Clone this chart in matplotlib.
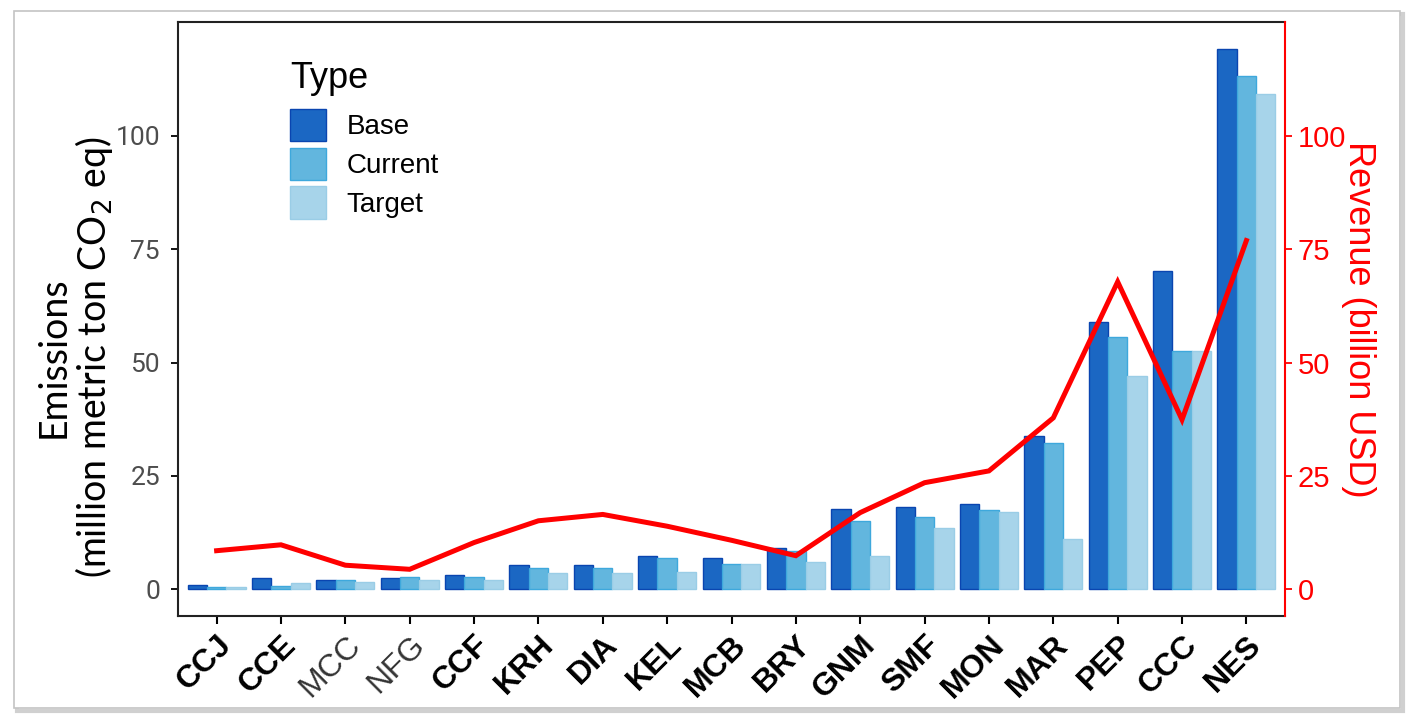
import matplotlib
matplotlib.use('Agg')
import matplotlib.pyplot as plt
from matplotlib.patches import Patch, Rectangle
import numpy as np

# data
companies = ['CCJ', 'CCE', 'MCC', 'NFG', 'CCF', 'KRH', 'DIA', 'KEL', 'MCB',
             'BRY', 'GNM', 'SMF', 'MON', 'MAR', 'PEP', 'CCC', 'NES']
base = [0.9, 2.4, 2.1, 2.4, 3.2, 5.4, 5.4, 7.3, 7.0,
        9.2, 17.8, 18.1, 18.9, 33.8, 59.0, 70.1, 119.2]
current = [0.5, 0.8, 2.1, 2.8, 2.8, 4.7, 4.7, 7.0, 5.5,
           8.4, 15.1, 15.9, 17.4, 32.2, 55.7, 52.6, 113.3]
target = [0.5, 1.3, 1.7, 2.1, 2.1, 3.6, 3.6, 3.7, 5.5,
          5.9, 7.4, 13.6, 17.0, 11.1, 47.1, 52.6, 109.3]
revenue = [8.5, 9.8, 5.3, 4.4, 10.3, 15.1, 16.5, 13.9, 10.8,
           7.4, 16.9, 23.5, 26.1, 37.8, 67.8, 37.4, 76.9]
plain_labels = ['MCC', 'NFG']  # not bold in the original
yticks = [0, 25, 50, 75, 100]

types = ['Base', 'Current', 'Target']
fills = ['#1b67c3', '#62b6de', '#a7d4ea']
edges = ['#0a45b0', '#3ea8dc', '#9acde6']

fig = plt.figure(figsize=(14.17, 7.27), dpi=100)

# outer frame with a soft shadow, kept behind the axes
fig.patches.append(Rectangle((17/1417, 1-711/727), 1386/1417, 697/727, zorder=-3,
                             transform=fig.transFigure, fc='none', ec='#d0d0d0', lw=3))
fig.patches.append(Rectangle((14/1417, 1-708/727), 1386/1417, 697/727, zorder=-2,
                             transform=fig.transFigure, fc='white', ec='#c4c4c4', lw=1.2))

ax = fig.add_axes([178/1417, 1-616/727, 1107/1417, 594/727])
ax.patch.set_alpha(0)
x = np.arange(1, len(companies)+1)
w = 0.3
for i, vals in enumerate([base, current, target]):
    ax.bar(x + (i-1)*w, vals, width=w, color=fills[i], edgecolor=edges[i], linewidth=1.0)

ax.set_xlim(0.4, len(companies)+0.6)
ylim = (-5.9, 125.1)
ax.set_ylim(ylim)
ax.set_yticks(yticks)
ax.set_yticklabels([str(t) for t in yticks], family=['Liberation Sans Narrow', 'Roboto'],
                   fontsize=19, color='#4d4d4d')
ax.set_xticks(x)
ax.set_xticklabels(companies, rotation=45, ha='right', va='top', rotation_mode='anchor',
                   fontsize=23, family='Liberation Sans')
for lab in ax.get_xticklabels():
    if lab.get_text() in plain_labels:
        lab.set_fontweight('normal')
        lab.set_color('#333333')
    else:
        lab.set_fontweight('bold')
ax.tick_params(axis='x', length=6, width=1.5, pad=4)
ax.tick_params(axis='y', length=5, width=1.3, pad=8)
for s in ['left', 'bottom', 'top']:
    ax.spines[s].set_linewidth(1.5)
    ax.spines[s].set_color('#222222')
ax.spines['right'].set_visible(False)

ax.set_ylabel('Emissions\n(million metric ton CO$_2$ eq)', family='Lato', fontsize=27,
              linespacing=1.05)
ax.yaxis.set_label_coords(-0.057, 0.435)

# legend: title drawn separately so the gap below it matches
ax.text(0.101, 0.935, 'Type', transform=ax.transAxes, ha='left', va='top',
        fontsize=26, family='Liberation Sans')
ax.legend(handles=[Patch(fc=fills[i], ec=edges[i], lw=1.0, label=types[i]) for i in range(3)],
          loc='upper left', bbox_to_anchor=(0.089, 0.877), frameon=False, borderpad=0,
          handlelength=1.28, handleheight=1.4, labelspacing=0.24, handletextpad=0.75,
          prop={'family': 'Liberation Sans', 'size': 20})

ax2 = ax.twinx()
ax2.plot(x, revenue, color='#ff0000', lw=3.6, solid_joinstyle='miter')
ax2.set_ylim(ylim)
ax2.set_yticks(yticks)
ax2.set_yticklabels([str(t) for t in yticks], family='Liberation Sans', fontsize=21, color='#ff0000')
ax2.tick_params(axis='y', colors='#ff0000', length=5, width=1.3, pad=4)
for s in ['left', 'bottom', 'top']:
    ax2.spines[s].set_visible(False)
ax2.spines['right'].set_color('#ff0000')
ax2.spines['right'].set_linewidth(1.5)
ax2.set_ylabel('Revenue (billion USD)', color='#ff0000', family='Liberation Sans',
               fontsize=26, rotation=270)
ax2.yaxis.set_label_coords(1.082, 0.5)

fig.savefig('out.png', dpi=100)
